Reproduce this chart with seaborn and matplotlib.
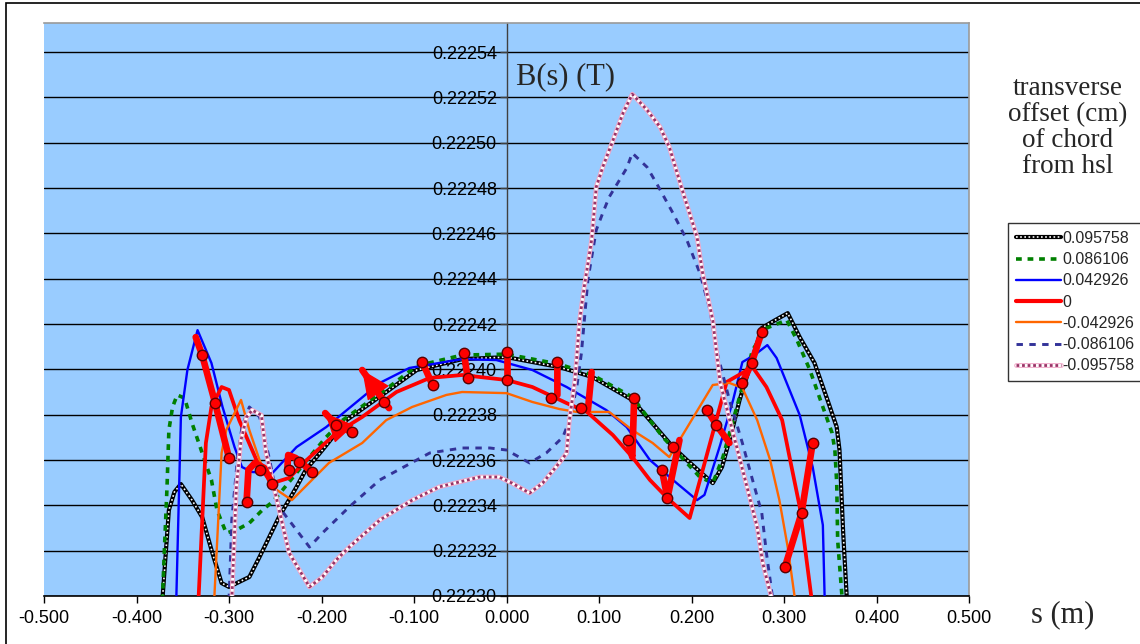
import matplotlib
matplotlib.use("Agg")
import matplotlib.pyplot as plt
import seaborn as sns
from matplotlib.lines import Line2D
from matplotlib.patches import Rectangle
from matplotlib.legend_handler import HandlerTuple
from matplotlib.ticker import FormatStrFormatter

sns.set_theme(style="white")
plt.rcParams['font.family'] = ['Liberation Sans', 'DejaVu Sans']

# ---- field along the chord, one curve per transverse offset (cm) ----
offset_labels = ["0.095758", "0.086106", "0.042926", "0",
                 "-0.042926", "-0.086106", "-0.095758"]

s_p0958 = [-0.372, -0.365, -0.359, -0.352, -0.340, -0.329, -0.318, -0.308, -0.300, -0.278,
           -0.267, -0.246, -0.227, -0.217, -0.199, -0.173, -0.130, -0.097, -0.048, 0.000,
           0.057, 0.093, 0.136, 0.180, 0.195, 0.223, 0.233, 0.244, 0.252, 0.263,
           0.276, 0.287, 0.304, 0.317, 0.333, 0.347, 0.357, 0.360, 0.364, 0.368]
B_p0958 = [0.2222982, 0.2223379, 0.2223459, 0.2223494, 0.2223423, 0.2223348, 0.2223190, 0.2223057,
           0.2223040, 0.2223084, 0.2223172, 0.2223348, 0.2223481, 0.2223556, 0.2223644, 0.2223776,
           0.2223900, 0.2223997, 0.2224045, 0.2224054, 0.2224010, 0.2223966, 0.2223865, 0.2223657,
           0.2223600, 0.2223498, 0.2223569, 0.2223732, 0.2223865, 0.2224010, 0.2224182, 0.2224209,
           0.2224248, 0.2224142, 0.2224028, 0.2223865, 0.2223745, 0.2223644, 0.2223278, 0.2222982]

s_p0861 = [-0.372, -0.370, -0.367, -0.365, -0.361, -0.356, -0.348, -0.340, -0.329, -0.319,
           -0.313, -0.303, -0.292, -0.278, -0.264, -0.253, -0.242, -0.227, -0.213, -0.195,
           -0.177, -0.130, -0.097, -0.048, 0.000, 0.057, 0.093, 0.136, 0.169, 0.195,
           0.209, 0.223, 0.234, 0.245, 0.255, 0.266, 0.281, 0.303, 0.314, 0.328,
           0.342, 0.352, 0.355, 0.357, 0.358, 0.363]
B_p0861 = [0.2222982, 0.2223190, 0.2223481, 0.2223732, 0.2223834, 0.2223887, 0.2223873, 0.2223763,
           0.2223631, 0.2223512, 0.2223379, 0.2223278, 0.2223291, 0.2223322, 0.2223379, 0.2223415,
           0.2223468, 0.2223543, 0.2223613, 0.2223701, 0.2223776, 0.2223913, 0.2224015, 0.2224063,
           0.2224067, 0.2224023, 0.2223975, 0.2223878, 0.2223701, 0.2223587, 0.2223525, 0.2223498,
           0.2223613, 0.2223776, 0.2223922, 0.2224085, 0.2224182, 0.2224217, 0.2224129, 0.2223997,
           0.2223834, 0.2223719, 0.2223644, 0.2223498, 0.2223247, 0.2222982]

s_p0429 = [-0.357, -0.352, -0.345, -0.334, -0.319, -0.307, -0.294, -0.286, -0.275, -0.253,
           -0.227, -0.195, -0.137, -0.105, -0.048, -0.011, 0.028, 0.065, 0.108, 0.130,
           0.155, 0.184, 0.206, 0.214, 0.231, 0.245, 0.255, 0.268, 0.282, 0.292,
           0.317, 0.331, 0.342, 0.344]
B_p0429 = [0.2222982, 0.2223790, 0.2223997, 0.2224173, 0.2224028, 0.2223834, 0.2223657, 0.2223569,
           0.2223547, 0.2223543, 0.2223657, 0.2223745, 0.2223940, 0.2224006, 0.2224045, 0.2224041,
           0.2223997, 0.2223922, 0.2223820, 0.2223745, 0.2223600, 0.2223498, 0.2223423, 0.2223446,
           0.2223666, 0.2223865, 0.2224032, 0.2224063, 0.2224107, 0.2224050, 0.2223798, 0.2223569,
           0.2223313, 0.2222982]

s_zero = [-0.333, -0.325, -0.319, -0.308, -0.300, -0.289, -0.267, -0.253, -0.235, -0.216,
          -0.184, -0.156, -0.119, -0.083, -0.048, 0.000, 0.028, 0.065, 0.087, 0.115,
          0.136, 0.155, 0.174, 0.198, 0.238, 0.266, 0.281, 0.298, 0.306, 0.317, 0.330]
B_zero = [0.2222982, 0.2223675, 0.2223834, 0.2223922, 0.2223909, 0.2223776, 0.2223569, 0.2223498,
          0.2223521, 0.2223600, 0.2223719, 0.2223790, 0.2223900, 0.2223962, 0.2223975, 0.2223953,
          0.2223922, 0.2223851, 0.2223812, 0.2223710, 0.2223613, 0.2223512, 0.2223432, 0.2223344,
          0.2223944, 0.2224010, 0.2223922, 0.2223776, 0.2223613, 0.2223393, 0.2222982]

s_m0429 = [-0.316, -0.308, -0.303, -0.287, -0.278, -0.267, -0.253, -0.232, -0.192, -0.156,
           -0.130, -0.102, -0.065, -0.048, 0.000, 0.028, 0.057, 0.076, 0.111, 0.136,
           0.158, 0.176, 0.223, 0.241, 0.255, 0.271, 0.285, 0.295, 0.304, 0.312]
B_m0429 = [0.2222982, 0.2223631, 0.2223732, 0.2223865, 0.2223732, 0.2223600, 0.2223481, 0.2223423,
           0.2223587, 0.2223675, 0.2223776, 0.2223834, 0.2223887, 0.2223900, 0.2223895, 0.2223856,
           0.2223825, 0.2223812, 0.2223812, 0.2223732, 0.2223675, 0.2223613, 0.2223931, 0.2223940,
           0.2223918, 0.2223776, 0.2223600, 0.2223423, 0.2223216, 0.2222982]

s_m0861 = [-0.300, -0.297, -0.291, -0.286, -0.278, -0.267, -0.256, -0.246, -0.227, -0.213,
           -0.199, -0.170, -0.137, -0.083, -0.048, -0.018, 0.000, 0.025, 0.043, 0.061,
           0.068, 0.076, 0.081, 0.088, 0.097, 0.104, 0.111, 0.130, 0.136, 0.152,
           0.162, 0.180, 0.195, 0.209, 0.220, 0.227, 0.241, 0.255, 0.266, 0.276,
           0.281, 0.288]
B_m0861 = [0.2222982, 0.2223335, 0.2223600, 0.2223745, 0.2223834, 0.2223790, 0.2223600, 0.2223393,
           0.2223291, 0.2223216, 0.2223278, 0.2223393, 0.2223512, 0.2223631, 0.2223653, 0.2223653,
           0.2223644, 0.2223587, 0.2223631, 0.2223701, 0.2223776, 0.2223922, 0.2224072, 0.2224394,
           0.2224614, 0.2224689, 0.2224760, 0.2224888, 0.2224954, 0.2224892, 0.2224822, 0.2224689,
           0.2224570, 0.2224425, 0.2224262, 0.2224085, 0.2223865, 0.2223675, 0.2223512, 0.2223366,
           0.2223190, 0.2222982]

s_m0958 = [-0.297, -0.292, -0.287, -0.281, -0.275, -0.265, -0.260, -0.249, -0.235, -0.213,
           -0.199, -0.184, -0.170, -0.137, -0.102, -0.073, -0.029, -0.008, 0.006, 0.025,
           0.039, 0.057, 0.065, 0.068, 0.074, 0.079, 0.084, 0.092, 0.097, 0.104,
           0.114, 0.126, 0.136, 0.152, 0.166, 0.176, 0.190, 0.206, 0.212, 0.223,
           0.231, 0.245, 0.260, 0.271, 0.277, 0.287]
B_m0958 = [0.2222982, 0.2223481, 0.2223688, 0.2223790, 0.2223820, 0.2223798, 0.2223631, 0.2223437,
           0.2223190, 0.2223040, 0.2223084, 0.2223159, 0.2223216, 0.2223335, 0.2223423, 0.2223481,
           0.2223525, 0.2223525, 0.2223498, 0.2223454, 0.2223498, 0.2223587, 0.2223631, 0.2223776,
           0.2223953, 0.2224217, 0.2224363, 0.2224570, 0.2224804, 0.2224892, 0.2224998, 0.2225131,
           0.2225214, 0.2225144, 0.2225069, 0.2224981, 0.2224791, 0.2224584, 0.2224425, 0.2224217,
           0.2223940, 0.2223719, 0.2223481, 0.2223304, 0.2223146, 0.2222982]

# ---- shift of the field between neighbouring chords (thick red vectors) ----
shift_s = [
    [-0.336, -0.329, -0.315, -0.300],
    [-0.281, -0.279, -0.272, -0.262, -0.253],
    [-0.237, -0.236, -0.228, -0.210],
    [-0.196, -0.184, -0.167],
    [-0.156, -0.132, -0.127],
    [-0.091, -0.080],
    [-0.046, -0.042],
    [0.000, 0.000],
    [0.055, 0.055, 0.048],
    [0.092, 0.088, 0.081],
    [0.138, 0.136, 0.131],
    [0.168, 0.174, 0.187],
    [0.217, 0.227, 0.241],
    [0.255, 0.265, 0.276],
    [0.301, 0.319, 0.331],
]
shift_B = [
    [0.2224142, 0.2224063, 0.2223851, 0.2223609],
    [0.2223415, 0.2223556, 0.2223587, 0.2223565, 0.2223494],
    [0.2223556, 0.2223622, 0.2223609, 0.2223547],
    [0.2223807, 0.2223754, 0.2223723],
    [0.2223997, 0.2223856, 0.2223829],
    [0.2224032, 0.2223931],
    [0.2224072, 0.2223962],
    [0.2224076, 0.2223953],
    [0.2224032, 0.2223887, 0.2223873],
    [0.2223988, 0.2223820, 0.2223829],
    [0.2223873, 0.2223613, 0.2223688],
    [0.2223556, 0.2223432, 0.2223688],
    [0.2223820, 0.2223754, 0.2223675],
    [0.2223940, 0.2224028, 0.2224165],
    [0.2223128, 0.2223366, 0.2223675],
]
# sample points on the vectors
node_s = [-0.329, -0.315, -0.300, -0.281, -0.267, -0.253, -0.235, -0.224, -0.210,
          -0.184, -0.167, -0.132, -0.091, -0.080, -0.046, -0.042, 0.000, 0.000,
          0.055, 0.048, 0.081, 0.138, 0.131, 0.168, 0.174, 0.180, 0.217, 0.227,
          0.255, 0.265, 0.276, 0.301, 0.319, 0.331]
node_B = [0.2224063, 0.2223851, 0.2223609, 0.2223415, 0.2223556, 0.2223494, 0.2223556,
          0.2223591, 0.2223547, 0.2223754, 0.2223723, 0.2223856, 0.2224032, 0.2223931,
          0.2224072, 0.2223962, 0.2224076, 0.2223953, 0.2224032, 0.2223873, 0.2223829,
          0.2223873, 0.2223688, 0.2223556, 0.2223432, 0.2223657, 0.2223820, 0.2223754,
          0.2223940, 0.2224028, 0.2224165, 0.2223128, 0.2223366, 0.2223675]
# vectors drawn with an arrow head at their first point
headed = [3, 4]

x_ticks = [-0.5, -0.4, -0.3, -0.2, -0.1, 0.0, 0.1, 0.2, 0.3, 0.4, 0.5]
y_ticks = [0.22230, 0.22232, 0.22234, 0.22236, 0.22238, 0.22240, 0.22242,
           0.22244, 0.22246, 0.22248, 0.22250, 0.22252, 0.22254]

# ---- figure ----
W, H = 1140, 644
fig = plt.figure(figsize=(W / 100, H / 100), dpi=100)
fig.patch.set_facecolor('white')
ax = fig.add_axes([44 / W, 48 / H, 925 / W, 573 / H])
ax.set_facecolor('#99CCFF')
ax.set_xlim(-0.5, 0.5)
ax.set_ylim(0.2223, 0.2225528)

ax.set_yticks(y_ticks)
ax.set_xticks(x_ticks)
ax.yaxis.set_major_formatter(FormatStrFormatter('%.5f'))
ax.xaxis.set_major_formatter(FormatStrFormatter('%.3f'))
ax.set_axisbelow(True)
ax.yaxis.grid(True, color='black', lw=1.0)
ax.xaxis.grid(False)

ax.spines['left'].set_position(('data', 0.0))
ax.spines['left'].set_color('#404040')
ax.spines['left'].set_linewidth(1.0)
ax.spines['left'].set_zorder(1)
for side in ('top', 'right'):
    ax.spines[side].set_color('#9a9a9a')
    ax.spines[side].set_linewidth(1.2)
ax.spines['bottom'].set_color('black')
ax.spines['bottom'].set_linewidth(1.2)

ax.tick_params(axis='y', direction='out', length=5, width=1, color='#404040',
               labelsize=13, pad=2, labelcolor='black', left=True)
ax.tick_params(axis='x', direction='out', length=5, width=1, color='black',
               labelsize=13, pad=5, labelcolor='black', bottom=True)
for lab in ax.get_yticklabels():
    lab.set_zorder(3)

def curve(s, B, zorder, **kw):
    sns.lineplot(x=s, y=B, ax=ax, estimator=None, sort=False, legend=False,
                 zorder=zorder, **kw)

# checkered outer chords: solid base with a dotted overlay
curve(s_p0958, B_p0958, 4, color='black', lw=3.0)
curve(s_p0958, B_p0958, 4.1, color='white', lw=1.2, linestyle=(0, (1, 1.5)))
curve(s_p0861, B_p0861, 4.2, color='#008000', lw=2.6, linestyle=(0, (1.6, 1.6)))
curve(s_p0429, B_p0429, 4.3, color='#0000FF', lw=1.7)
curve(s_zero, B_zero, 4.4, color='#FF0000', lw=2.7)
curve(s_m0429, B_m0429, 4.5, color='#FF6600', lw=1.7)
curve(s_m0861, B_m0861, 4.6, color='#333399', lw=2.1, linestyle=(0, (2.2, 2.2)))
curve(s_m0958, B_m0958, 4.7, color='#F2A6C8', lw=3.4)
curve(s_m0958, B_m0958, 4.8, color='white', lw=2.0)
curve(s_m0958, B_m0958, 4.9, color='#993366', lw=2.0, linestyle=(0, (1, 1)))

# field-shift vectors
for i, (vs, vb) in enumerate(zip(shift_s, shift_B)):
    ax.plot(vs, vb, color='#FF0000', lw=4.8, solid_capstyle='round',
            solid_joinstyle='round', zorder=6)
    if i in headed:
        ax.annotate('', xy=(vs[0], vb[0]), xytext=(vs[1], vb[1]),
                    arrowprops=dict(arrowstyle='-|>,head_length=1.1,head_width=0.5',
                                    color='#FF0000', lw=1.0, shrinkA=0, shrinkB=0,
                                    mutation_scale=17),
                    zorder=6)
ax.plot(node_s, node_B, linestyle='none', marker='o', ms=7.5, mfc='#FF0000',
        mec='#5a0000', mew=1.0, zorder=7)

# ---- text ----
serif = ['Liberation Serif', 'DejaVu Serif']
fig.text(516 / W, 1 - 84 / H, 'B(s) (T)', family=serif, fontsize=22,
         ha='left', va='baseline')
fig.text(1031 / W, 1 - 622 / H, 's (m)', family=serif, fontsize=22,
         ha='left', va='baseline')
fig.text(1068 / W, 1 - 76 / H, 'transverse\noffset (cm)\nof chord\nfrom hsl',
         family=serif, fontsize=19.5, ha='center', va='top', linespacing=1.05)

# ---- legend ----
h_p0958 = (Line2D([], [], color='black', lw=3.0),
           Line2D([], [], color='white', lw=1.2, ls=(0, (1, 1.5))))
h_p0861 = Line2D([], [], color='#008000', lw=2.6, ls=(0, (1.6, 1.6)))
h_p0429 = Line2D([], [], color='#0000FF', lw=1.7)
h_zero = Line2D([], [], color='#FF0000', lw=3.0)
h_m0429 = Line2D([], [], color='#FF6600', lw=1.7)
h_m0861 = Line2D([], [], color='#333399', lw=2.1, ls=(0, (2.2, 2.2)))
h_m0958 = (Line2D([], [], color='#F2A6C8', lw=3.4),
           Line2D([], [], color='white', lw=2.0),
           Line2D([], [], color='#993366', lw=2.0, ls=(0, (1, 1))))
leg = fig.legend([h_p0958, h_p0861, h_p0429, h_zero, h_m0429, h_m0861, h_m0958],
                 offset_labels, loc='upper left',
                 bbox_to_anchor=(1008 / W, 1 - 223 / H), borderaxespad=0,
                 frameon=True, fancybox=False, edgecolor='black', facecolor='white',
                 fontsize=11.5, handlelength=2.8, handletextpad=0.1,
                 borderpad=0.5, labelspacing=0.39,
                 handler_map={tuple: HandlerTuple(ndivide=1, pad=0)})
leg.get_frame().set_linewidth(1.0)

# chart frame
fig.patches.append(Rectangle((6 / W, -0.02), 1.2, 1 - 3 / H + 0.02,
                             transform=fig.transFigure, fill=False,
                             edgecolor='black', lw=1.2))

fig.savefig('out.png', dpi=100)
